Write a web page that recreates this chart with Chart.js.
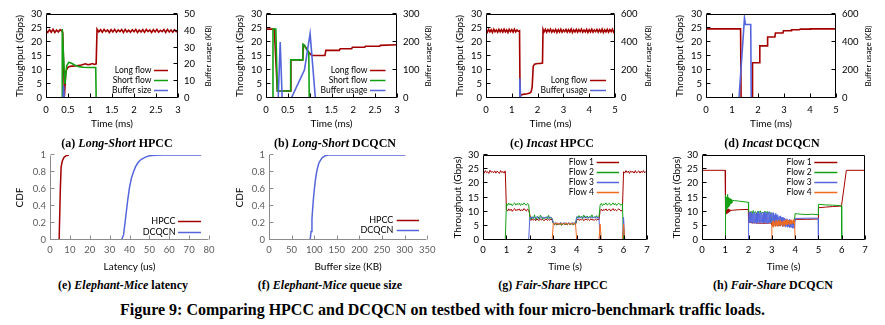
<!DOCTYPE html>
<html>
<head>
<meta charset="utf-8">
<script src="https://cdn.jsdelivr.net/npm/chart.js@4.4.1/dist/chart.umd.min.js"></script>
<style>
  html, body { margin: 0; padding: 0; background: #fff; }
  #fig { position: relative; width: 885px; height: 325px; overflow: hidden; background: #fff; }
  #fig canvas { position: absolute; }
  .cap { position: absolute; width: 260px; text-align: center; white-space: nowrap;
         font: bold 12px "Liberation Serif", "Times New Roman", serif; line-height: 14px; color: #000; }
  .cap i { font-style: italic; }
  #figtitle { position: absolute; left: 0; width: 885px; top: 301px; text-align: center; white-space: nowrap;
              font: bold 16px "Liberation Serif", "Times New Roman", serif; line-height: 18px; color: #000; }
</style>
</head>
<body>
<div id="fig">
  <canvas id="cA" width="220" height="132" style="left:0px;top:0px"></canvas>
  <canvas id="cB" width="220" height="132" style="left:220px;top:0px"></canvas>
  <canvas id="cC" width="220" height="132" style="left:440px;top:0px"></canvas>
  <canvas id="cD" width="220" height="132" style="left:660px;top:0px"></canvas>
  <canvas id="cE" width="220" height="134" style="left:0px;top:141px"></canvas>
  <canvas id="cF" width="220" height="134" style="left:220px;top:141px"></canvas>
  <canvas id="cG" width="220" height="134" style="left:440px;top:141px"></canvas>
  <canvas id="cH" width="220" height="134" style="left:660px;top:141px"></canvas>

  <div class="cap" style="left:-13px;top:136px">(a) <i>Long-Short</i> HPCC</div>
  <div class="cap" style="left:205px;top:136px">(b) <i>Long-Short</i> DCQCN</div>
  <div class="cap" style="left:422px;top:136px">(c) <i>Incast</i> HPCC</div>
  <div class="cap" style="left:642px;top:136px">(d) <i>Incast</i> DCQCN</div>
  <div class="cap" style="left:-7px;top:278px">(e) <i>Elephant-Mice</i> latency</div>
  <div class="cap" style="left:200px;top:278px">(f) <i>Elephant-Mice</i> queue size</div>
  <div class="cap" style="left:423px;top:278px">(g) <i>Fair-Share</i> HPCC</div>
  <div class="cap" style="left:643px;top:278px">(h) <i>Fair-Share</i> DCQCN</div>
  <div id="figtitle">Figure 9: Comparing HPCC and DCQCN on testbed with four micro-benchmark traffic loads.</div>
</div>

<script>
// ---------- tick values ----------
const lsTimeTicks = [0, 0.5, 1, 1.5, 2, 2.5, 3];
const incastTimeTicks = [0, 1, 2, 3, 4, 5];
const fairTimeTicks = [0, 1, 2, 3, 4, 5, 6, 7];
const gbpsTicks = [0, 5, 10, 15, 20, 25, 30];
const bufTicksA = [0, 10, 20, 30, 40, 50];
const bufTicksB = [0, 100, 200, 300];
const bufTicksC = [0, 200, 400, 600];
const latencyTicks = [0, 10, 20, 30, 40, 50, 60, 70, 80];
const queueTicks = [0, 50, 100, 150, 200, 250, 300, 350];
const cdfTicks = [0, 0.2, 0.4, 0.6, 0.8, 1];

// ---------- (a) Long-Short, HPCC: [time ms, Gbps] / [time ms, KB] ----------
const lsHpccLong = [[0,24.2],[0.04,23.4],[0.08,24.4],[0.12,23.5],[0.16,24.5],[0.2,23.4],[0.24,24.3],[0.28,23.6],
  [0.32,24.4],[0.36,23.9],[0.38,23.5],[0.42,0.8],[0.45,9.5],[0.5,11.0],[0.55,11.3],[0.6,11.4],[0.7,11.5],
  [0.8,11.8],[0.9,12.2],[0.95,11.9],[1.0,12.0],[1.05,12.3],[1.1,12.0],[1.14,12.2],[1.16,24.6],
  [1.2,23.6],[1.24,24.4],[1.28,23.5],[1.32,24.5],[1.36,23.7],[1.4,24.3],[1.44,23.4],[1.48,24.4],[1.52,23.6],
  [1.56,24.5],[1.6,23.5],[1.64,24.3],[1.68,23.7],[1.72,24.4],[1.76,23.4],[1.8,24.5],[1.84,23.6],[1.88,24.2],
  [1.92,23.5],[1.96,24.4],[2.0,23.7],[2.04,24.5],[2.08,23.4],[2.12,24.3],[2.16,23.6],[2.2,24.4],[2.24,23.5],
  [2.28,24.5],[2.32,23.7],[2.36,24.3],[2.4,23.4],[2.44,24.4],[2.48,23.6],[2.52,24.5],[2.56,23.5],[2.6,24.2],
  [2.64,23.7],[2.68,24.4],[2.72,23.4],[2.76,24.5],[2.8,23.6],[2.84,24.3],[2.88,23.5],[2.92,24.4],[2.96,23.7],[3.0,24.2]];
const lsHpccShort = [[0.365,0],[0.37,24.6],[0.4,14.0],[0.43,5.0],[0.47,11.5],[0.52,12.8],[0.58,12.4],[0.65,11.8],
  [0.75,11.2],[0.85,11.0],[1.0,10.9],[1.13,10.9],[1.14,0]];
const lsHpccBuffer = [[0.385,0],[0.4,7.5],[0.415,0]];

// ---------- (b) Long-Short, DCQCN ----------
const lsDcqcnLong = [[0,24.6],[0.19,24.6],[0.26,2.5],[0.56,2.5],[0.57,13.6],[0.84,13.6],[0.86,19.0],[0.92,18.0],
  [0.98,16.2],[1.05,15.2],[1.35,15.2],[1.37,17.0],[1.68,17.0],[1.7,17.6],[1.96,17.6],[1.98,18.1],[2.26,18.1],
  [2.28,18.5],[2.6,18.5],[2.62,18.8],[3.0,19.0]];
const lsDcqcnShort = [[0.155,0],[0.16,24.6],[0.225,24.6],[0.26,2.5],[0.56,2.5],[0.565,13.6],[0.84,13.6],
  [0.845,19.2],[0.88,18.9],[0.93,17.3],[0.98,16.4],[0.99,0]];
const lsDcqcnBuffer = [[0.28,0],[0.325,200],[0.37,0],[0.58,0],[0.88,100],[1.01,230],[1.13,0]];

// ---------- (c) Incast, HPCC ----------
const incHpccLong = [[0,24.3],[0.05,23.5],[0.1,24.5],[0.15,23.6],[0.2,24.4],[0.25,23.4],[0.3,24.6],[0.35,23.7],
  [0.4,24.3],[0.45,23.5],[0.5,24.5],[0.55,23.6],[0.6,24.4],[0.65,23.5],[0.7,24.6],[0.75,23.6],[0.8,24.3],
  [0.85,23.4],[0.9,24.5],[0.95,23.7],[1.0,24.4],[1.05,23.5],[1.1,24.6],[1.15,23.6],[1.2,24.3],[1.25,23.8],
  [1.3,24.0],[1.32,1.0],[1.4,1.2],[1.5,1.4],[1.6,1.5],[1.7,1.8],[1.75,2.2],[1.79,4.0],[1.83,11.3],[1.88,12.1],
  [2.0,12.3],[2.1,12.3],[2.19,12.5],[2.21,24.5],
  [2.25,23.6],[2.3,24.5],[2.35,23.5],[2.4,24.4],[2.45,23.7],[2.5,24.6],[2.55,23.5],[2.6,24.3],[2.65,23.6],
  [2.7,24.5],[2.75,23.4],[2.8,24.4],[2.85,23.6],[2.9,24.6],[2.95,23.5],[3.0,24.3],[3.05,23.7],[3.1,24.5],
  [3.15,23.5],[3.2,24.4],[3.25,23.6],[3.3,24.6],[3.35,23.4],[3.4,24.3],[3.45,23.6],[3.5,24.5],[3.55,23.5],
  [3.6,24.4],[3.65,23.7],[3.7,24.6],[3.75,23.5],[3.8,24.3],[3.85,23.6],[3.9,24.5],[3.95,23.4],[4.0,24.4],
  [4.05,23.6],[4.1,24.6],[4.15,23.5],[4.2,24.3],[4.25,23.7],[4.3,24.5],[4.35,23.5],[4.4,24.4],[4.45,23.6],
  [4.5,24.6],[4.55,23.4],[4.6,24.3],[4.65,23.6],[4.7,24.5],[4.75,23.5],[4.8,24.4],[4.85,23.7],[4.9,24.6],
  [4.95,23.5],[5.0,24.3]];
const incHpccBuffer = [[1.29,0],[1.31,140],[1.34,8],[1.36,0]];

// ---------- (d) Incast, DCQCN ----------
const incDcqcnLong = [[0,24.7],[1.33,24.7],[1.35,0],[1.78,0],[1.79,12.6],[2.05,12.6],[2.07,18.6],[2.35,18.6],
  [2.37,21.8],[2.65,21.8],[2.67,23.2],[2.96,23.2],[2.98,24.0],[3.27,24.0],[3.29,24.4],[3.6,24.4],[3.62,24.6],
  [4.0,24.6],[4.02,24.7],[5.0,24.7]];
const incDcqcnBuffer = [[1.27,0],[1.48,572],[1.52,525],[1.72,525],[1.74,0]];

// ---------- (e) Elephant-Mice latency CDF: [us, fraction] ----------
const latHpcc = [[0,0],[4.6,0],[5.2,0.6],[5.6,0.86],[6.2,0.93],[7,0.97],[8,0.99],[9.5,1.0]];
const latDcqcn = [[0,0],[36,0],[37,0.06],[38,0.25],[39,0.45],[40,0.62],[41,0.73],[42,0.8],[43,0.86],[44,0.9],
  [45,0.93],[46,0.95],[48,0.975],[50,0.99],[53,0.997],[57,1],[76,1]];

// ---------- (f) Elephant-Mice queue CDF: [KB, fraction] ----------
const queueHpcc = [[0,0],[0,1]];
const queueDcqcn = [[0,0],[91,0],[93,0.1],[95,0.25],[97,0.4],[99,0.53],[101,0.63],[103,0.72],[105,0.79],
  [107,0.84],[110,0.9],[114,0.94],[118,0.97],[124,0.99],[132,1],[302,1]];

// ---------- (g) Fair-Share, HPCC (runs are {t0, dt, v} sampled every dt seconds) ----------
const fsHpccFlow1 = [{ t0: 0, dt: 0.05, v: [
  24.3,23.6,24.5,23.8,24.1,23.5,24.6,23.9,24.2,23.7,24.4,23.6,24.3,24.0,23.5,24.5,23.8,24.2,23.6,24.4,
  10.8,10.2,11.0,10.4,10.9,10.1,10.7,11.1,10.3,10.8,10.5,11.0,10.2,10.7,10.4,11.1,10.6,10.2,10.9,10.5,
  9.0,6.9,7.5,7.0,7.3,6.8,7.4,7.1,6.9,7.5,7.0,7.3,6.8,7.2,7.4,6.9,7.3,7.0,7.4,7.1,
  5.8,5.4,5.9,5.3,5.7,5.5,5.9,5.2,5.6,5.8,5.4,5.7,5.3,5.9,5.5,5.6,5.8,5.3,5.7,5.5,
  7.0,7.4,6.9,7.3,7.1,7.5,6.8,7.2,7.4,7.0,7.3,6.9,7.5,7.1,7.2,6.9,7.4,7.0,7.3,7.1,
  10.4,10.9,10.2,10.8,10.5,11.0,10.3,10.7,10.9,10.2,10.6,11.1,10.4,10.8,10.3,10.7,11.0,10.5,10.2,10.8,
  24.1,23.6,24.5,23.8,24.3,23.5,24.4,23.9,24.2,23.6,24.5,23.7,24.0,24.4,23.6,24.3,23.8,24.5,23.7,24.2,24.0] }];
const fsHpccFlow2 = [{ t0: 0.95, dt: 0.05, v: [0,
  12.9,12.2,13.0,12.4,12.8,12.1,12.7,13.1,12.3,12.9,12.5,13.0,12.2,12.8,12.4,13.1,12.6,12.3,12.9,12.5,
  7.8,7.3,8.2,7.5,8.9,7.2,7.9,8.3,7.4,8.8,8.1,7.3,7.9,7.6,8.2,7.4,8.7,7.5,8.0,7.6,
  5.9,5.5,6.0,5.4,5.8,5.6,6.1,5.3,5.7,5.9,5.5,5.8,5.4,6.0,5.6,5.7,5.9,5.4,5.8,5.6,
  8.2,7.7,8.6,7.9,8.4,7.6,8.8,8.0,7.8,8.5,7.7,8.3,8.0,8.9,7.8,8.2,7.9,8.6,7.7,8.1,
  12.4,12.9,12.1,12.8,12.5,13.1,12.3,12.7,13.0,12.2,12.6,13.1,12.4,12.9,12.2,12.7,13.0,12.5,12.3,12.8,
  0] }];
const fsHpccFlow3 = [{ t0: 1.95, dt: 0.05, v: [0,
  8.1,7.7,8.2,7.6,8.0,7.8,8.3,7.5,7.9,8.1,7.7,8.2,7.6,8.0,7.8,8.3,7.7,7.9,8.1,7.6,
  6.1,5.7,6.2,5.8,6.0,5.6,6.1,5.9,5.7,6.2,5.8,6.0,5.6,6.1,5.9,5.7,6.2,5.8,6.0,5.9,
  7.9,8.3,7.6,8.1,7.8,8.2,7.7,8.0,8.3,7.6,8.1,7.9,8.2,7.7,8.0,7.8,8.3,7.6,8.1,7.9,
  0] }, [5.5,null], [5.95,0], [6.0,8.0], [6.05,0]];
const fsHpccFlow4 = [{ t0: 2.95, dt: 0.05, v: [0,
  5.7,6.0,5.5,6.1,5.6,5.9,5.4,6.0,5.7,5.8,5.5,6.1,5.6,5.9,5.7,6.0,5.5,5.8,6.1,5.6,
  0] }, [4.5,null], [4.95,0], [5.0,5.6], [5.05,0], [5.5,null], [5.95,0], [6.0,5.6], [6.05,0]];

// ---------- (h) Fair-Share, DCQCN ----------
const fsDcqcnFlow1 = [[0,24.6],[0.99,24.6],
  { t0: 1.0, dt: 0.02, v: [9.6,10.9,9.2,11.1,9.5,10.8,9.7,11.0,10.0,10.8,10.3] },
  [1.3,10.5],[1.6,10.7],[1.99,10.8],[2.0,6.2],[2.3,6.0],[2.6,5.9],[2.99,6.0],
  { t0: 3.0, dt: 0.05, v: [5.4,4.8,5.6,5.0,5.5,4.9,5.3,5.0,5.6,5.1,5.4,4.9,5.5,5.2,5.7,5.0,5.6,5.3,5.8,5.4] },
  [4.0,7.3],[4.5,7.3],[4.99,7.4],[5.0,11.4],[5.3,11.6],[5.6,11.8],[5.99,12.0],[6.2,24.6],[7.0,24.6]];
const fsDcqcnFlow2 = [[0.99,0],
  { t0: 1.0, dt: 0.02, v: [12.2,15.8,10.6,15.2,11.2,16.1,11.6,15.0,12.0,14.8,12.5,14.5,12.8,14.2,13.1,14.0] },
  [1.4,13.9],[1.6,13.7],[1.8,13.5],[1.99,13.3],
  { t0: 2.0, dt: 0.05, v: [10.3,9.4,10.1,9.2,10.4,9.5,10.0,9.1,10.2,9.6,10.3,9.3,9.9,9.4,10.2,9.5,10.1,9.2,9.9,9.6] },
  { t0: 3.0, dt: 0.05, v: [6.2,5.2,6.4,5.0,6.1,5.3,6.3,5.1,6.0,5.4,6.2,5.2,5.9,5.0,6.1,5.3,6.0,5.5,6.2,5.4] },
  [4.0,9.3],[4.25,9.1],[4.5,9.0],[4.75,9.1],[4.99,8.9],[5.0,12.6],[5.3,12.4],[5.6,12.3],[5.99,12.1],[6.0,0]];
const fsDcqcnFlow3 = [[1.99,0],
  { t0: 2.0, dt: 0.025, v: [6.1,9.8,6.0,9.5,6.3,10.0,5.9,9.2,6.4,9.9,6.0,9.6,6.2,9.1,5.8,9.7,6.3,10.1,6.0,9.4,
    6.1,9.8,6.4,9.0,5.9,9.6,6.2,9.9,6.0,9.3,6.3,9.7,5.8,9.5,6.1,10.0,6.2,9.2,6.0,9.6] },
  { t0: 3.0, dt: 0.025, v: [9.4,6.0,9.6,5.5,8.8,6.2,9.3,5.2,8.6,5.8,8.9,5.0,8.2,5.6,8.5,4.9,7.9,5.3,8.1,4.8,
    7.6,5.1,7.8,4.6,7.3,5.0,7.5,4.5,7.0,4.8,7.2,4.4,6.8,4.6,6.9,4.2,6.5,4.3,6.6,4.1] },
  [4.0,7.6],[4.5,7.7],[4.99,7.7],[5.0,0]];
const fsDcqcnFlow4 = [[2.99,0],
  { t0: 3.0, dt: 0.025, v: [5.0,6.5,4.6,6.8,5.2,6.2,4.8,7.0,5.4,6.4,4.9,6.9,5.3,6.6,5.0,7.1,5.6,6.3,4.8,6.7,
    5.5,6.9,5.1,6.5,5.7,7.2,5.3,6.6,5.9,7.0,5.4,6.8,5.8,7.1,5.6,6.7,6.0,7.2,5.8,6.5] },
  [4.0,0]];

// ---------- styling ----------
const RED = '#a30000', GREEN = '#12a012', BLUE = '#5566dd', ORANGE = '#f26b1d';
const tickFont = { family: 'Lato', size: 9.5 };
const titleFont = { family: 'Lato', size: 10 };

// flatten point lists, expanding evenly sampled runs
const expand = list => list.flatMap(e => Array.isArray(e) ? [e]
  : e.v.map((v, i) => [+(e.t0 + i * e.dt).toFixed(3), v]));

// frame, inward tick marks, rotated right-axis title and line-sample legend
const figureDecor = {
  id: 'figureDecor',
  afterDraw(chart, _args, o) {
    const ctx = chart.ctx, a = chart.chartArea;
    const L = Math.round(a.left) + 0.5, R = Math.round(a.right) - 0.5;
    const T = Math.round(a.top) + 0.5, B = Math.round(a.bottom) - 0.5;
    ctx.save();
    ctx.lineWidth = 1;
    ctx.strokeStyle = o.axisColor;
    ctx.beginPath();
    if (o.box) ctx.rect(L, T, R - L, B - T);
    else { ctx.moveTo(L, T); ctx.lineTo(L, B); ctx.lineTo(R, B); }
    ctx.stroke();

    const tl = o.tickLen;
    ctx.beginPath();
    Object.values(chart.scales).forEach(s => {
      s.ticks.forEach(t => {
        const p = Math.round(s.getPixelForValue(t.value));
        if (s.position === 'bottom') { const x = p + 0.5; ctx.moveTo(x, B); ctx.lineTo(x, B - tl); }
        else if (s.position === 'left') { const y = p - 0.5; ctx.moveTo(L, y); ctx.lineTo(L + tl, y); }
        else if (s.position === 'right') { const y = p - 0.5; ctx.moveTo(R, y); ctx.lineTo(R - tl, y); }
      });
    });
    ctx.stroke();

    if (o.rightTitle) {
      ctx.save();
      ctx.translate(o.rightTitle.x, (a.top + a.bottom) / 2);
      ctx.rotate(-Math.PI / 2);
      ctx.font = o.rightTitle.font;
      ctx.fillStyle = '#000';
      ctx.textAlign = 'center';
      ctx.textBaseline = 'middle';
      ctx.fillText(o.rightTitle.text, 0, 0);
      ctx.restore();
    }

    if (o.legend) {
      const g = o.legend;
      ctx.font = g.font;
      ctx.textAlign = 'right';
      ctx.textBaseline = 'middle';
      chart.data.datasets.forEach(ds => {
        if (ds.legendRow == null) return;
        const y = g.rows[ds.legendRow];
        ctx.fillStyle = g.textColor || '#000';
        ctx.fillText(ds.label, g.textRight, y);
        ctx.strokeStyle = ds.borderColor;
        ctx.lineWidth = g.lineWidth;
        ctx.beginPath();
        ctx.moveTo(g.x0, Math.round(y) + 0.5);
        ctx.lineTo(g.x1, Math.round(y) + 0.5);
        ctx.stroke();
      });
    }
    ctx.restore();
  }
};

function axis(pos, spec, sizeFit, tickColor, titlePad) {
  const horizontal = pos === 'bottom';
  const out = {
    type: 'linear', position: pos, min: spec.min, max: spec.max,
    afterBuildTicks: s => { s.ticks = spec.ticks.map(v => ({ value: v })); },
    afterFit: s => { if (horizontal) s.height = sizeFit; else s.width = sizeFit; },
    grid: { display: false, drawTicks: false },
    border: { display: false },
    ticks: { autoSkip: false, maxRotation: 0, padding: spec.pad, color: tickColor, font: tickFont,
             callback: v => String(v) },
    title: { display: false }
  };
  if (spec.title) {
    out.title = { display: true, text: spec.title, color: '#000', font: titleFont,
                  padding: horizontal ? { top: 0, bottom: titlePad } : { top: titlePad, bottom: 0 } };
  }
  return out;
}

function panel(id, p) {
  const el = document.getElementById(id);
  const W = el.width, H = el.height, ar = p.area;
  const scales = {
    x: axis('bottom', p.x, H - ar.b, p.tickColor, p.x.titlePad),
    y: axis('left', p.y, ar.l, p.tickColor, p.y.titlePad)
  };
  if (p.y2) scales.y2 = axis('right', p.y2, W - ar.r, p.tickColor, 0);
  const datasets = p.series.map(s => ({
    label: s.label, data: expand(s.data), borderColor: s.color, backgroundColor: s.color,
    borderWidth: p.lineWidth, pointRadius: 0, tension: 0, fill: false,
    yAxisID: s.axis || 'y', order: s.order, legendRow: s.row
  }));
  return new Chart(el, {
    type: 'line',
    data: { datasets },
    options: {
      responsive: false, animation: false, events: [],
      layout: { padding: { top: ar.t, left: 0, bottom: 0, right: p.y2 ? 0 : W - ar.r } },
      plugins: {
        legend: { display: false }, tooltip: { enabled: false },
        figureDecor: p.decor
      },
      scales
    },
    plugins: [figureDecor]
  });
}

const legendTop = { font: '8.5px Lato', lineWidth: 1.5 };
const rightTitleFont = '8px Lato';

// (a)
panel('cA', {
  area: { l: 46, t: 14, r: 178, b: 98 }, tickColor: '#000', lineWidth: 1.6,
  x: { min: 0, max: 3, ticks: lsTimeTicks, pad: 6, title: 'Time (ms)', titlePad: 2 },
  y: { min: 0, max: 30, ticks: gbpsTicks, pad: 4, title: 'Throughput (Gbps)', titlePad: 14 },
  y2: { min: 0, max: 50, ticks: bufTicksA, pad: 6 },
  series: [
    { label: 'Long flow', data: lsHpccLong, color: RED, order: 3, row: 0 },
    { label: 'Short flow', data: lsHpccShort, color: GREEN, order: 2, row: 1 },
    { label: 'Buffer size', data: lsHpccBuffer, color: BLUE, axis: 'y2', order: 1, row: 2 }
  ],
  decor: { box: true, axisColor: '#000', tickLen: 4,
    rightTitle: { text: 'Buffer usage (KB)', x: 208, font: rightTitleFont },
    legend: Object.assign({ textRight: 151.5, x0: 154, x1: 168, rows: [70, 80, 90] }, legendTop) }
});

// (b)
panel('cB', {
  area: { l: 46, t: 14, r: 177, b: 98 }, tickColor: '#000', lineWidth: 1.6,
  x: { min: 0, max: 3, ticks: lsTimeTicks, pad: 6, title: 'Time (ms)', titlePad: 2 },
  y: { min: 0, max: 30, ticks: gbpsTicks, pad: 4, title: 'Throughput (Gbps)', titlePad: 14 },
  y2: { min: 0, max: 300, ticks: bufTicksB, pad: 6 },
  series: [
    { label: 'Long flow', data: lsDcqcnLong, color: RED, order: 3, row: 0 },
    { label: 'Short flow', data: lsDcqcnShort, color: GREEN, order: 2, row: 1 },
    { label: 'Buffer usage', data: lsDcqcnBuffer, color: BLUE, axis: 'y2', order: 1, row: 2 }
  ],
  decor: { box: true, axisColor: '#000', tickLen: 4,
    rightTitle: { text: 'Buffer usage (KB)', x: 208, font: rightTitleFont },
    legend: Object.assign({ textRight: 147.5, x0: 150, x1: 165.5, rows: [70, 80, 90] }, legendTop) }
});

// (c)
panel('cC', {
  area: { l: 46, t: 14, r: 175, b: 98 }, tickColor: '#000', lineWidth: 1.6,
  x: { min: 0, max: 5, ticks: incastTimeTicks, pad: 6, title: 'Time (ms)', titlePad: 2 },
  y: { min: 0, max: 30, ticks: gbpsTicks, pad: 4, title: 'Throughput (Gbps)', titlePad: 14 },
  y2: { min: 0, max: 600, ticks: bufTicksC, pad: 6 },
  series: [
    { label: 'Long flow', data: incHpccLong, color: RED, order: 2, row: 0 },
    { label: 'Buffer usage', data: incHpccBuffer, color: BLUE, axis: 'y2', order: 1, row: 1 }
  ],
  decor: { box: true, axisColor: '#000', tickLen: 4,
    rightTitle: { text: 'Buffer usage (KB)', x: 208, font: rightTitleFont },
    legend: Object.assign({ textRight: 147.5, x0: 150, x1: 166, rows: [80, 90] }, legendTop) }
});

// (d)
panel('cD', {
  area: { l: 46, t: 14, r: 176, b: 98 }, tickColor: '#000', lineWidth: 1.6,
  x: { min: 0, max: 5, ticks: incastTimeTicks, pad: 6, title: 'Time (ms)', titlePad: 2 },
  y: { min: 0, max: 30, ticks: gbpsTicks, pad: 4, title: 'Throughput (Gbps)', titlePad: 14 },
  y2: { min: 0, max: 600, ticks: bufTicksC, pad: 6 },
  series: [
    { label: 'Long flow', data: incDcqcnLong, color: RED, order: 2 },
    { label: 'Buffer usage', data: incDcqcnBuffer, color: BLUE, axis: 'y2', order: 1 }
  ],
  decor: { box: true, axisColor: '#000', tickLen: 4,
    rightTitle: { text: 'Buffer usage (KB)', x: 208, font: rightTitleFont } }
});

// (e)
panel('cE', {
  area: { l: 50, t: 14, r: 209, b: 99 }, tickColor: '#5c5c5c', lineWidth: 1.5,
  x: { min: 0, max: 80, ticks: latencyTicks, pad: 4.5, title: 'Latency (us)', titlePad: 2.3 },
  y: { min: 0, max: 1, ticks: cdfTicks, pad: 4, title: 'CDF', titlePad: 14 },
  series: [
    { label: 'HPCC', data: latHpcc, color: RED, order: 1, row: 0 },
    { label: 'DCQCN', data: latDcqcn, color: BLUE, order: 2, row: 1 }
  ],
  decor: { box: false, axisColor: '#8c8c8c', tickLen: 4,
    legend: { textRight: 175.5, x0: 178, x1: 201, rows: [79.7, 90.7], font: '9px Lato', lineWidth: 1.5 } }
});

// (f)
panel('cF', {
  area: { l: 49, t: 14, r: 208, b: 99 }, tickColor: '#5c5c5c', lineWidth: 1.5,
  x: { min: 0, max: 350, ticks: queueTicks, pad: 4.5, title: 'Buffer size (KB)', titlePad: 2.3 },
  y: { min: 0, max: 1, ticks: cdfTicks, pad: 4, title: 'CDF', titlePad: 14 },
  series: [
    { label: 'HPCC', data: queueHpcc, color: RED, order: 1, row: 0 },
    { label: 'DCQCN', data: queueDcqcn, color: BLUE, order: 2, row: 1 }
  ],
  decor: { box: false, axisColor: '#8c8c8c', tickLen: 4,
    legend: { textRight: 173.3, x0: 176.7, x1: 199, rows: [79, 89], font: '9px Lato', lineWidth: 1.5 } }
});

// (g)
panel('cG', {
  area: { l: 43, t: 14, r: 207, b: 99 }, tickColor: '#000', lineWidth: 1,
  x: { min: 0, max: 7, ticks: fairTimeTicks, pad: 4.5, title: 'Time (s)', titlePad: 2.3 },
  y: { min: 0, max: 30, ticks: gbpsTicks, pad: 4, title: 'Throughput (Gbps)', titlePad: 12 },
  series: [
    { label: 'Flow 1', data: fsHpccFlow1, color: RED, order: 4, row: 0 },
    { label: 'Flow 2', data: fsHpccFlow2, color: GREEN, order: 3, row: 1 },
    { label: 'Flow 3', data: fsHpccFlow3, color: BLUE, order: 2, row: 2 },
    { label: 'Flow 4', data: fsHpccFlow4, color: ORANGE, order: 1, row: 3 }
  ],
  decor: { box: true, axisColor: '#000', tickLen: 4,
    legend: { textRight: 154, x0: 156.7, x1: 179, rows: [21, 31.3, 41.3, 51.3], font: '8.5px Lato', lineWidth: 1.5 } }
});

// (h)
panel('cH', {
  area: { l: 42, t: 14, r: 205, b: 99 }, tickColor: '#000', lineWidth: 1,
  x: { min: 0, max: 7, ticks: fairTimeTicks, pad: 4.5, title: 'Time (s)', titlePad: 2.3 },
  y: { min: 0, max: 30, ticks: gbpsTicks, pad: 4, title: 'Throughput (Gbps)', titlePad: 11 },
  series: [
    { label: 'Flow 1', data: fsDcqcnFlow1, color: RED, order: 4, row: 0 },
    { label: 'Flow 2', data: fsDcqcnFlow2, color: GREEN, order: 3, row: 1 },
    { label: 'Flow 3', data: fsDcqcnFlow3, color: BLUE, order: 2, row: 2 },
    { label: 'Flow 4', data: fsDcqcnFlow4, color: ORANGE, order: 1, row: 3 }
  ],
  decor: { box: true, axisColor: '#000', tickLen: 4,
    legend: { textRight: 151.7, x0: 154.3, x1: 177.3, rows: [21, 31.3, 41.3, 51.3], font: '8.5px Lato', lineWidth: 1.5 } }
});
</script>
</body>
</html>
